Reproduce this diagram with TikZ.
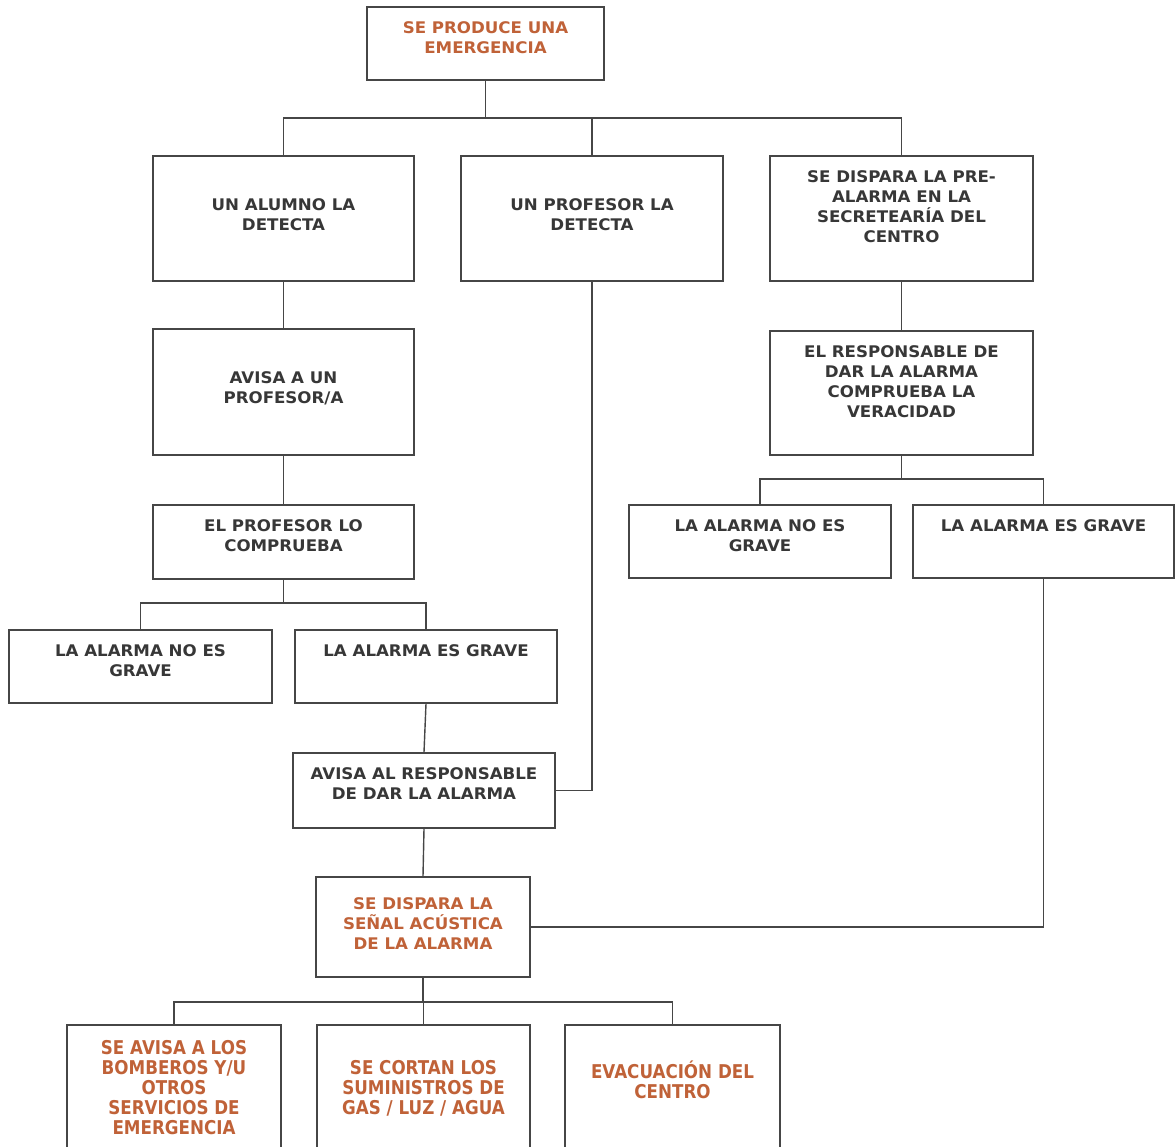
\documentclass[tikz,border=0pt]{standalone}
\usepackage{fontspec}
\setmainfont{DejaVu Sans}[FakeStretch=1.04]
\newfontfamily\condfont{DejaVu Sans}[FakeStretch=0.88]
\usetikzlibrary{positioning}
\definecolor{boxline}{RGB}{70,70,70}
\definecolor{darktxt}{RGB}{55,55,55}
\definecolor{rusttxt}{RGB}{192,98,56}

\begin{document}
\begin{tikzpicture}[x=1pt, y=-1pt,
                greysquarednode/.style={rectangle, draw=boxline, line width=1.4pt, fill=white, inner sep=0pt},
                darklabel/.style={align=center, inner sep=0pt, text=darktxt, font=\bfseries\fontsize{16}{20}\selectfont},
                rustlabel/.style={darklabel, text=rusttxt},
                rustcondlabel/.style={darklabel, text=rusttxt, font=\condfont\bfseries\fontsize{19}{20}\selectfont},
                link/.style={draw=boxline, line width=1.4pt},
                ]
                \useasboundingbox (0,0) rectangle (1176,1147);
                \clip (0,0) rectangle (1176,1147);

                % boxes
                \node[greysquarednode, minimum width=237, minimum height=73] (T) at (485.5,43.5) {};
                \node[greysquarednode, minimum width=261, minimum height=125] (A) at (283.5,218.5) {};
                \node[greysquarednode, minimum width=262, minimum height=125] (B) at (592,218.5) {};
                \node[greysquarednode, minimum width=263, minimum height=125] (C) at (901.5,218.5) {};
                \node[greysquarednode, minimum width=261, minimum height=126] (AV) at (283.5,392) {};
                \node[greysquarednode, minimum width=261, minimum height=74] (EP) at (283.5,542) {};
                \node[greysquarednode, minimum width=263, minimum height=73] (NG1) at (140.5,666.5) {};
                \node[greysquarednode, minimum width=262, minimum height=73] (G1) at (426,666.5) {};
                \node[greysquarednode, minimum width=262, minimum height=75] (AR) at (424,790.5) {};
                \node[greysquarednode, minimum width=214, minimum height=100] (SD) at (423,927) {};
                \node[greysquarednode, minimum width=263, minimum height=124] (RC) at (901.5,393) {};
                \node[greysquarednode, minimum width=262, minimum height=73] (NG2) at (760,541.5) {};
                \node[greysquarednode, minimum width=261, minimum height=73] (G2) at (1043.5,541.5) {};
                \node[greysquarednode, minimum width=214, minimum height=150] (S1) at (174,1100) {};
                \node[greysquarednode, minimum width=213, minimum height=150] (S2) at (423.5,1100) {};
                \node[greysquarednode, minimum width=215, minimum height=150] (S3) at (672.5,1100) {};

                % texts
                \node[rustlabel, below=15pt of T.north] (Tt) {SE PRODUCE UNA\\EMERGENCIA};
                \node[darklabel, below=43pt of A.north] (At) {UN ALUMNO LA\\DETECTA};
                \node[darklabel, below=43pt of B.north] (Bt) {UN PROFESOR LA\\DETECTA};
                \node[darklabel, below=15pt of C.north] (Ct) {SE DISPARA LA PRE-\\ALARMA EN LA\\SECRETEARÍA DEL\\CENTRO};
                \node[darklabel, below=43pt of AV.north] (AVt) {AVISA A UN\\PROFESOR/A};
                \node[darklabel, below=15pt of EP.north] (EPt) {EL PROFESOR LO\\COMPRUEBA};
                \node[darklabel, below=15pt of NG1.north] (NG1t) {LA ALARMA NO ES\\GRAVE};
                \node[darklabel, below=15pt of G1.north] (G1t) {LA ALARMA ES GRAVE};
                \node[darklabel, below=15pt of AR.north] (ARt) {AVISA AL RESPONSABLE\\DE DAR LA ALARMA};
                \node[rustlabel, below=21pt of SD.north] (SDt) {SE DISPARA LA\\SEÑAL ACÚSTICA\\DE LA ALARMA};
                \node[darklabel, below=15pt of RC.north] (RCt) {EL RESPONSABLE DE\\DAR LA ALARMA\\COMPRUEBA LA\\VERACIDAD};
                \node[darklabel, below=15pt of NG2.north] (NG2t) {LA ALARMA NO ES\\GRAVE};
                \node[darklabel, below=15pt of G2.north] (G2t) {LA ALARMA ES GRAVE};
                \node[rustcondlabel, below=16pt of S1.north] (S1t) {SE AVISA A LOS\\BOMBEROS Y/U\\OTROS\\SERVICIOS DE\\EMERGENCIA};
                \node[rustcondlabel, below=36pt of S2.north] (S2t) {SE CORTAN LOS\\SUMINISTROS DE\\GAS / LUZ / AGUA};
                \node[rustcondlabel, below=36pt of S3.north] (S3t) {EVACUACIÓN DEL\\CENTRO};

                % junctions
                \coordinate (J1) at (485.5,118);
                \coordinate (J2) at (283.5,603);
                \coordinate (J3) at (901.5,479);
                \coordinate (J4) at (423,1002);

                \draw[link] (T.south) -- (J1);
                \draw[link] (J1) -| (A.north);
                \draw[link] (J1) -| (B.north);
                \draw[link] (J1) -| (C.north);

                \draw[link] (A.south) -- (AV.north);
                \draw[link] (AV.south) -- (EP.north);
                \draw[link] (EP.south) -- (J2);
                \draw[link] (J2) -| (NG1.north);
                \draw[link] (J2) -| (G1.north);
                \draw[link] (G1.south) -- (AR.north);
                \draw[link] (B.south) |- (AR.east);
                \draw[link] (AR.south) -- (SD.north);

                \draw[link] (C.south) -- (RC.north);
                \draw[link] (RC.south) -- (J3);
                \draw[link] (J3) -| (NG2.north);
                \draw[link] (J3) -| (G2.north);
                \draw[link] (G2.south) |- (SD.east);

                \draw[link] (SD.south) -- (J4);
                \draw[link] (J4) -| (S1.north);
                \draw[link] (J4) -| (S2.north);
                \draw[link] (J4) -| (S3.north);
            \end{tikzpicture}
\end{document}
